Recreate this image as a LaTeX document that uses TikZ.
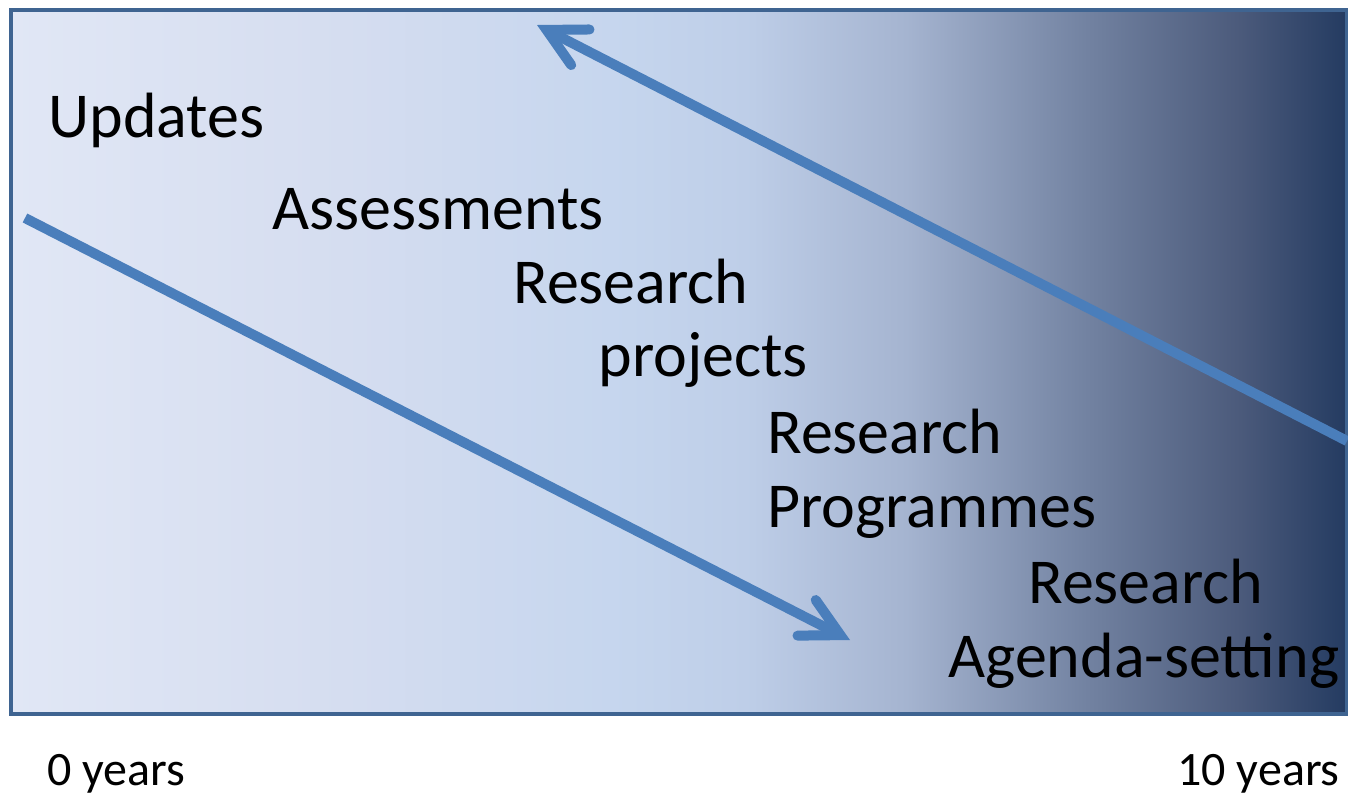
\documentclass[tikz,border=0pt]{standalone}
\usepackage{fontspec}
\setmainfont{Carlito}
\usetikzlibrary{arrows.meta}
\definecolor{framecol}{RGB}{63,100,145}
\definecolor{arrowcol}{RGB}{74,126,187}
% the path box is mapped to 25bp--75bp of the shading
\pgfdeclarehorizontalshading{timeshade}{100bp}{%
  rgb(0bp)=(0.882,0.906,0.961);
  rgb(25bp)=(0.882,0.906,0.961);
  rgb(37.5bp)=(0.835,0.867,0.941);
  rgb(47.5bp)=(0.776,0.839,0.933);
  rgb(52.5bp)=(0.745,0.808,0.910);
  rgb(58.5bp)=(0.647,0.706,0.816);
  rgb(65bp)=(0.455,0.518,0.639);
  rgb(71bp)=(0.294,0.353,0.482);
  rgb(75bp)=(0.141,0.231,0.380);
  rgb(100bp)=(0.141,0.231,0.380)}
\tikzset{
  label/.style={anchor=base west, inner sep=0pt, font=\fontsize{32}{38}\selectfont},
  axislabel/.style={anchor=base west, inner sep=0pt, font=\fontsize{24}{29}\selectfont},
  flow/.style={draw=arrowcol, line width=5pt,
    -{Straight Barb[length=19pt,width=20pt,line cap=round,line join=miter]}}
}
\begin{document}
\begin{tikzpicture}[x=0.5pt,y=-0.5pt]
		%%%%% START %%%%%
		\useasboundingbox (0, 0) rectangle (1348, 794);
		\draw[framecol, line width=2pt, shading=timeshade] (11, 10) rectangle (1347, 714);
		
		\node[label] (upd) at (48, 137) {Updates};
		\node[label] (ass) at (272, 229) {Assessments};
		\node[label] (rp1) at (513, 303) {Research};
		\node[label] (rp2) at (598, 376) {projects};
		\node[label] (pg1) at (767, 453) {Research};
		\node[label] (pg2) at (767, 527) {Programmes};
		\node[label] (ag1) at (1028, 603) {Research};
		\node[label] (ag2) at (948, 677) {Agenda-setting};
		
		\node[axislabel] (y0) at (47, 785) {0 years};
		\node[axislabel] (y10) at (1177, 785) {10 years};
		
		\coordinate (downstart) at (25, 218);
		\coordinate (downend) at (850, 640);
		\coordinate (upstart) at (1347, 441);
		\coordinate (upend) at (537, 25);
		\draw[flow] (downstart) -- (downend);
		\draw[flow] (upstart) -- (upend);
		%%%%% END %%%%%
\end{tikzpicture}
\end{document}
